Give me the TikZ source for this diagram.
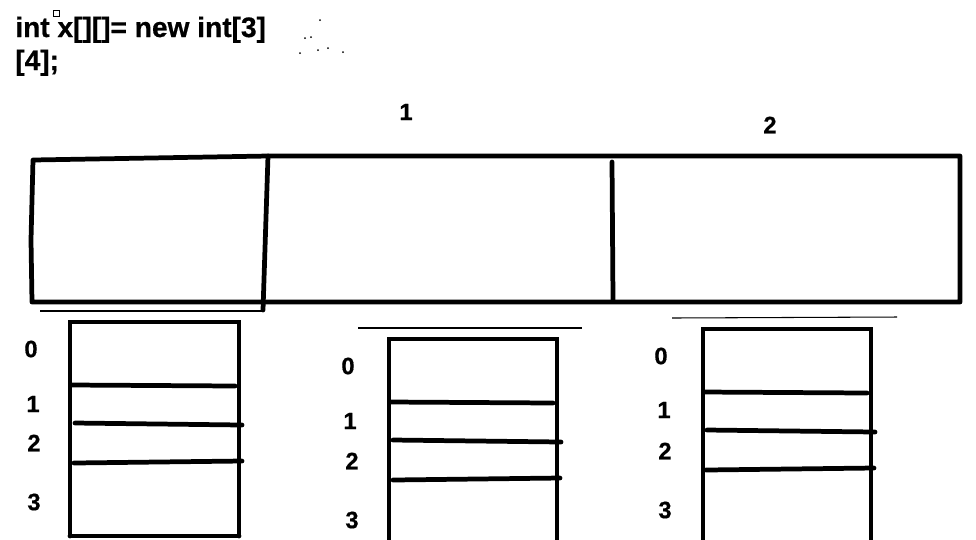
\documentclass[tikz,border=0pt]{standalone}
\usepackage{fontspec}
\setmainfont[BoldFeatures={FakeBold=0.6}]{Liberation Sans}
\tikzset{
	strich/.style={line width=2.7pt,line cap=round},
	duenn/.style={line width=0.6pt},
	code/.style={font=\bfseries\fontsize{16}{18}\selectfont,inner sep=0pt,anchor=base west},
	zahl/.style={font=\bfseries\fontsize{13.5}{15}\selectfont,inner sep=0pt}
}
\def\fach#1#2#3#4{
	\draw[strich] (#1,#4) -- (#1,#3) -- (#2,#3) -- (#2,#4);
}
\begin{document}
\begin{tikzpicture}[x=0.02cm,y=-0.02cm]
\useasboundingbox (0,0) rectangle (976,539);
% Code
\node[code] (zeile1) at (15,37) {int x[][]= new int[3]};
\node[code] (zeile2) at (15,70) {[4];};
\draw[line width=0.5pt] (53,10) rectangle (59,16);
\foreach \p in {(320,20),(311,37),(305,38),(300,53),(318,50),(328,48),(343,52)}
	\fill \p circle (1);
% aeusseres Feld
\coordinate (a0) at (33,160);
\coordinate (a1) at (268,156);
\coordinate (a2) at (960,156);
\coordinate (a3) at (960,302);
\coordinate (a4) at (32,302);
\draw[strich,line join=round] (a1) -- (a0) -- (31,240) -- (a4) -- (a3) -- (a2) -- (a1);
\draw[strich] (a1) -- (263,310);
\draw[strich] (612,162) -- (613,300);
\node[zahl] (n1) at (406,112) {1};
\node[zahl] (n2) at (770,125) {2};
% duenne Linien
\draw[duenn] (40,311) -- (262,311);
\draw[duenn] (358,328) -- (582,328);
\draw[duenn] (672,318) -- (897,317);
% Spalte 0
\fach{70}{239}{322}{536}
\draw[strich] (70,536) -- (239,536);
\draw[strich] (72,385) -- (235,386);
\draw[strich] (75,423) -- (242,425);
\draw[strich] (74,463) -- (242,461);
\node[zahl] (s00) at (31,349) {0};
\node[zahl] (s01) at (33,404) {1};
\node[zahl] (s02) at (34,443) {2};
\node[zahl] (s03) at (34,502) {3};
% Spalte 1
\fach{389}{557}{339}{545}
\draw[strich] (391,402) -- (553,403);
\draw[strich] (393,440) -- (561,442);
\draw[strich] (393,480) -- (560,478);
\node[zahl] (s10) at (348,366) {0};
\node[zahl] (s11) at (350,421) {1};
\node[zahl] (s12) at (352,461) {2};
\node[zahl] (s13) at (352,520) {3};
% Spalte 2
\fach{703}{871}{329}{545}
\draw[strich] (704,392) -- (867,393);
\draw[strich] (707,430) -- (875,432);
\draw[strich] (706,470) -- (874,468);
\node[zahl] (s20) at (661,356) {0};
\node[zahl] (s21) at (664,410) {1};
\node[zahl] (s22) at (665,451) {2};
\node[zahl] (s23) at (665,510) {3};
\end{tikzpicture}
\end{document}
